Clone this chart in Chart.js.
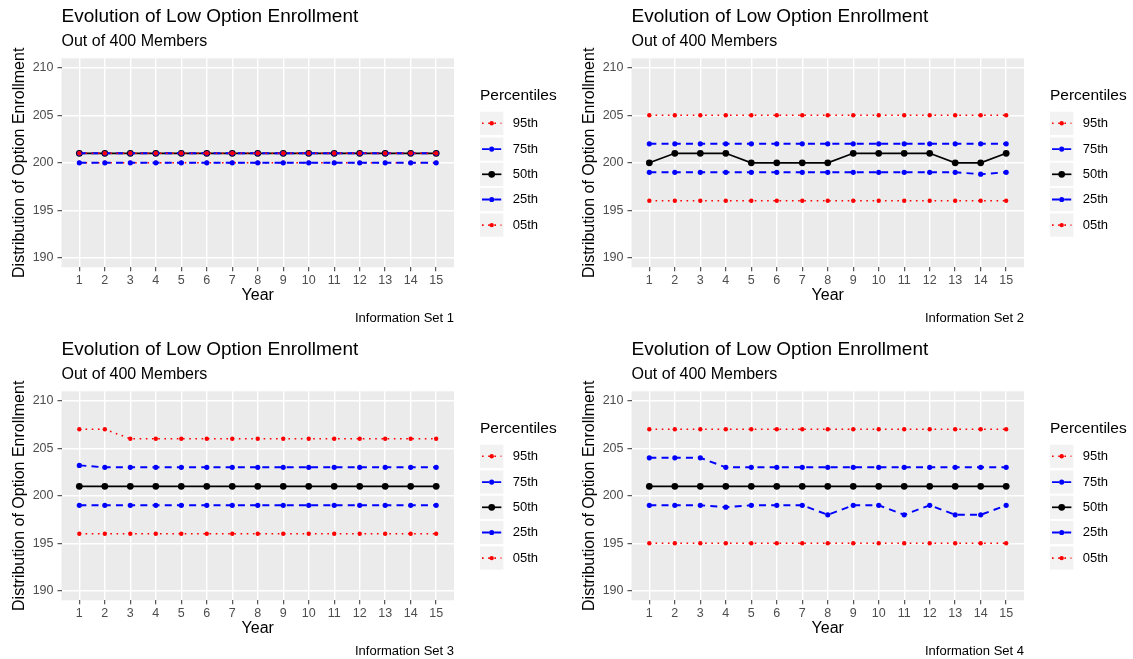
<!DOCTYPE html>
<html><head><meta charset="utf-8">
<script src="https://cdn.jsdelivr.net/npm/chart.js@4.4.0/dist/chart.umd.min.js"></script>
<style>
html,body{margin:0;padding:0;background:#fff;}
body{width:1133px;height:659px;position:relative;overflow:hidden;}
canvas{position:absolute;}
</style></head><body>
<canvas id="c1" width="563" height="326" style="left:0px;top:0px"></canvas>
<canvas id="c2" width="563" height="326" style="left:570px;top:0px"></canvas>
<canvas id="c3" width="563" height="326" style="left:0px;top:333px"></canvas>
<canvas id="c4" width="563" height="326" style="left:570px;top:333px"></canvas>
<script>
// ---------- data ----------
const years = [1,2,3,4,5,6,7,8,9,10,11,12,13,14,15];
const seriesNames = ['95th','75th','50th','25th','05th'];
const yTicks = [190,195,200,205,210];
const chartTitle = 'Evolution of Low Option Enrollment';
const chartSubtitle = 'Out of 400 Members';
const xTitle = 'Year';
const yTitle = 'Distribution of Option Enrollment';
const legendTitle = 'Percentiles';
const captions = ['Information Set 1','Information Set 2','Information Set 3','Information Set 4'];

const set1_p95 = [201,201,201,201,201,201,201,201,201,201,201,201,201,201,201];
const set1_p75 = [201,201,201,201,201,201,201,201,201,201,201,201,201,201,201];
const set1_p50 = [201,201,201,201,201,201,201,201,201,201,201,201,201,201,201];
const set1_p25 = [200,200,200,200,200,200,200,200,200,200,200,200,200,200,200];
const set1_p05 = [200,200,200,200,200,200,200,200,200,200,200,200,200,200,200];

const set2_p95 = [205,205,205,205,205,205,205,205,205,205,205,205,205,205,205];
const set2_p75 = [202,202,202,202,202,202,202,202,202,202,202,202,202,202,202];
const set2_p50 = [200,201,201,201,200,200,200,200,201,201,201,201,200,200,201];
const set2_p25 = [199,199,199,199,199,199,199,199,199,199,199,199,199,198.8,199];
const set2_p05 = [196,196,196,196,196,196,196,196,196,196,196,196,196,196,196];

const set3_p95 = [207,207,206,206,206,206,206,206,206,206,206,206,206,206,206];
const set3_p75 = [203.2,203,203,203,203,203,203,203,203,203,203,203,203,203,203];
const set3_p50 = [201,201,201,201,201,201,201,201,201,201,201,201,201,201,201];
const set3_p25 = [199,199,199,199,199,199,199,199,199,199,199,199,199,199,199];
const set3_p05 = [196,196,196,196,196,196,196,196,196,196,196,196,196,196,196];

const set4_p95 = [207,207,207,207,207,207,207,207,207,207,207,207,207,207,207];
const set4_p75 = [204,204,204,203,203,203,203,203,203,203,203,203,203,203,203];
const set4_p50 = [201,201,201,201,201,201,201,201,201,201,201,201,201,201,201];
const set4_p25 = [199,199,199,198.8,199,199,199,198,199,199,198,199,198,198,199];
const set4_p05 = [195,195,195,195,195,195,195,195,195,195,195,195,195,195,195];

const panels = [
  [set1_p95,set1_p75,set1_p50,set1_p25,set1_p05],
  [set2_p95,set2_p75,set2_p50,set2_p25,set2_p05],
  [set3_p95,set3_p75,set3_p50,set3_p25,set3_p05],
  [set4_p95,set4_p75,set4_p50,set4_p25,set4_p05]
];

// ---------- styling ----------
const FONT = '"Liberation Sans", Arial, Helvetica, sans-serif';
Chart.defaults.font.family = FONT;
const dotted = {color:'#FF0000', dash:[1.6,4.6], width:1.6, radius:2.2};
const dashed = {color:'#0000FF', dash:[7,5.2], width:1.9, radius:2.6};
const solid  = {color:'#000000', dash:[], width:1.7, radius:3.4};
const styleFor = {'95th':dotted,'75th':dashed,'50th':solid,'25th':dashed,'05th':dotted};

const decor = {
  id:'decor',
  beforeDraw(chart){
    const {ctx, chartArea:a} = chart;
    ctx.save();
    ctx.fillStyle = '#EBEBEB';
    ctx.fillRect(a.left, a.top, a.right-a.left, a.bottom-a.top);
    ctx.restore();
  },
  afterDraw(chart, args, opts){
    const {ctx, chartArea:a} = chart;
    ctx.save();
    ctx.textBaseline = 'middle';
    ctx.textAlign = 'left';
    ctx.fillStyle = '#000';
    ctx.font = '19px ' + FONT;
    ctx.fillText(opts.title, a.left, 16.7);
    ctx.font = '16px ' + FONT;
    ctx.fillText(opts.subtitle, a.left, 41.7);
    ctx.font = '13px ' + FONT;
    ctx.textAlign = 'right';
    ctx.fillText(opts.caption, a.right, 318);
    // legend
    const lx = a.right + 26;
    ctx.textAlign = 'left';
    ctx.font = '15.5px ' + FONT;
    ctx.fillText(opts.legendTitle, lx, 95.7);
    const rows = [123.3,149.1,174.3,199.5,225.1];
    chart.data.datasets.forEach((ds, i) => {
      const cy = rows[i];
      ctx.fillStyle = '#F2F2F2';
      ctx.fillRect(lx, cy-11.6, 23.4, 23.2);
      ctx.strokeStyle = ds.borderColor;
      ctx.lineWidth = ds.borderWidth;
      ctx.setLineDash(ds.borderDash);
      ctx.beginPath();
      ctx.moveTo(lx+2, cy); ctx.lineTo(lx+21.4, cy);
      ctx.stroke();
      ctx.setLineDash([]);
      ctx.fillStyle = ds.pointBackgroundColor;
      ctx.beginPath();
      ctx.arc(lx+11.7, cy, ds.pointRadius, 0, Math.PI*2);
      ctx.fill();
      ctx.fillStyle = '#000';
      ctx.font = '13px ' + FONT;
      ctx.fillText(ds.label, lx+32.7, cy);
    });
    ctx.restore();
  }
};

function makeChart(id, values, caption){
  const datasets = seriesNames.map((name, i) => {
    const s = styleFor[name];
    return {
      label: name,
      data: values[i],
      borderColor: s.color,
      backgroundColor: s.color,
      borderWidth: s.width,
      borderDash: s.dash,
      pointRadius: s.radius,
      pointBackgroundColor: s.color,
      pointBorderWidth: 0,
      pointHoverRadius: s.radius,
      tension: 0,
      fill: false
    };
  });
  return new Chart(document.getElementById(id), {
    type: 'line',
    data: { labels: years, datasets },
    plugins: [decor],
    options: {
      responsive: false,
      animation: false,
      devicePixelRatio: 1,
      events: [],
      layout: { padding: { left: 0, right: 109, top: 58.3, bottom: 0 } },
      plugins: {
        legend: { display: false },
        tooltip: { enabled: false },
        title: { display: false },
        decor: { title: chartTitle, subtitle: chartSubtitle, caption, legendTitle }
      },
      scales: {
        x: {
          type: 'linear',
          min: 0.3, max: 15.7,
          afterBuildTicks: sc => { sc.ticks = years.map(v => ({value: v})); },
          afterFit: sc => { sc.height = 58.7; },
          grid: { color: '#FFFFFF', lineWidth: 1.4, tickColor: '#333333', tickWidth: 1, tickLength: 4, drawTicks: true },
          border: { display: false },
          ticks: { color: '#4D4D4D', font: { size: 12.5 }, padding: 2, autoSkip: false, maxRotation: 0 },
          title: { display: true, text: xTitle, color: '#000', font: { size: 16 }, padding: { top: 0, bottom: 20.4 } }
        },
        y: {
          type: 'linear',
          min: 189, max: 211,
          afterBuildTicks: sc => { sc.ticks = yTicks.map(v => ({value: v})); },
          afterFit: sc => { sc.width = 61.5; },
          grid: { color: '#FFFFFF', lineWidth: 1.4, tickColor: '#333333', tickWidth: 1, tickLength: 4, drawTicks: true },
          border: { display: false },
          ticks: { color: '#4D4D4D', font: { size: 12.5 }, padding: 4 },
          title: { display: true, text: yTitle, color: '#000', font: { size: 16 }, padding: { top: 10.4, bottom: 0 } }
        }
      }
    }
  });
}

makeChart('c1', panels[0], captions[0]);
makeChart('c2', panels[1], captions[1]);
makeChart('c3', panels[2], captions[2]);
makeChart('c4', panels[3], captions[3]);
</script>
</body></html>
